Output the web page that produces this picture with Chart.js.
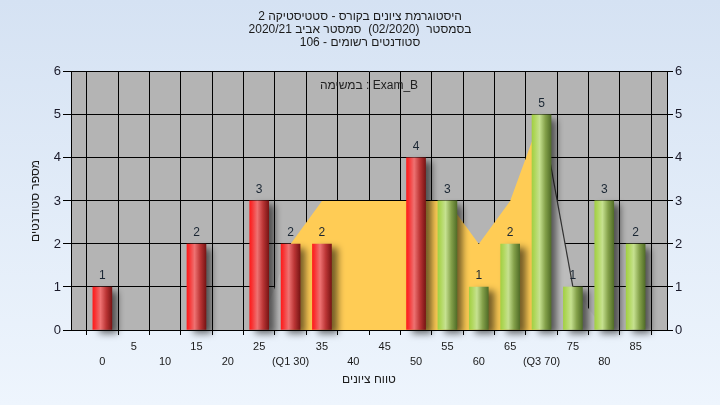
<!DOCTYPE html>
<html>
<head>
<meta charset="utf-8">
<script src="https://cdn.jsdelivr.net/npm/chart.js@4"></script>
<style>
  html, body { margin: 0; padding: 0; }
  body { width: 720px; height: 405px; background: linear-gradient(#d5e2f3, #eef5fd); }
  #wrap { position: relative; width: 720px; height: 405px; }
</style>
</head>
<body>
<div id="wrap"><canvas id="chart"></canvas></div>
<script>
// grade histogram - Exam_B

const titleLines = [
  'היסטוגרמת ציונים בקורס - סטטיסטיקה 2',
  'בסמסטר  (02/2020)  סמסטר אביב 2020/21',
  'סטודנטים רשומים - 106'
];
const taskLabel = 'במשימה : Exam_B';
const xTitle = 'טווח ציונים';
const yTitle = 'מספר סטודנטים';

const categories = [0, 5, 10, 15, 20, 25, 30, 35, 40, 45, 50, 55, 60, 65, 70, 75, 80, 85];
const counts     = [1, 0, 0, 2, 0, 3, 2, 2, 0, 0, 4, 3, 1, 2, 5, 1, 3, 2];
const tickLabels = ['0', '5', '10', '15', '20', '25', '(Q1 30)', '35', '40', '45', '50', '55', '60', '65', '(Q3 70)', '75', '80', '85'];
const passFrom = 55;

// shaded band behind the bars
const areaX = [25, 30, 35, 40, 45, 50, 55, 60, 65, 70, 75, 80];
const areaY = [0, 2, 3, 3, 3, 3, 3, 2, 3, 5, 1, 0];
const q1 = 30, q3 = 70;

const FONT = "'Liberation Sans', Arial, 'DejaVu Sans', sans-serif";
const BAR_W = 19;

function barFill(c) {
  const chart = c.chart;
  if (!chart.chartArea || !c.raw) return '#e33';
  const x = chart.scales.x.getPixelForValue(c.raw.x);
  const g = chart.ctx.createLinearGradient(x - BAR_W / 2, 0, x + BAR_W / 2, 0);
  if (c.raw.x < passFrom) {
    g.addColorStop(0, '#ff1c1c');
    g.addColorStop(0.12, '#f83232');
    g.addColorStop(0.4, '#ee7272');
    g.addColorStop(0.7, '#bb3535');
    g.addColorStop(1, '#7a1515');
  } else {
    g.addColorStop(0, '#a2d044');
    g.addColorStop(0.15, '#b0d75c');
    g.addColorStop(0.4, '#c6e190');
    g.addColorStop(0.7, '#84a14a');
    g.addColorStop(1, '#526e28');
  }
  return g;
}

const plotBg = {
  id: 'plotBg',
  beforeDraw(chart) {
    const { ctx, chartArea: a } = chart;
    ctx.save();
    ctx.fillStyle = '#b4b4b4';
    ctx.fillRect(a.left, a.top, a.right - a.left, a.bottom - a.top);
    ctx.restore();
  }
};

const barShadow = {
  id: 'barShadow',
  beforeDatasetDraw(chart, args) {
    if (args.meta.type !== 'bar') return;
    const ctx = chart.ctx;
    ctx.save();
    ctx.shadowColor = 'rgba(0,0,0,0.55)';
    ctx.shadowBlur = 7;
    ctx.shadowOffsetX = 6;
    ctx.shadowOffsetY = 4;
  },
  afterDatasetDraw(chart, args) {
    if (args.meta.type !== 'bar') return;
    chart.ctx.restore();
  }
};

const labels = {
  id: 'labels',
  afterDatasetsDraw(chart) {
    const ctx = chart.ctx;
    const a = chart.chartArea;
    ctx.save();
    ctx.font = '12px ' + FONT;
    ctx.textAlign = 'center';
    ctx.textBaseline = 'bottom';
    ctx.fillStyle = '#1a2633';
    const meta = chart.getDatasetMeta(1);
    meta.data.forEach((bar, i) => {
      if (!counts[i]) return;
      ctx.fillText(String(counts[i]), bar.x, bar.y - 5);
    });
    ctx.fillStyle = '#222';
    ctx.textBaseline = 'middle';
    ctx.fillText(taskLabel, (a.left + a.right) / 2, a.top + 14);
    ctx.restore();
  }
};

new Chart(document.getElementById('chart'), {
  data: {
    datasets: [
      {
        type: 'line',
        order: 2,
        data: areaX.map((x, i) => ({ x, y: areaY[i] })),
        fill: 'origin',
        pointRadius: 0,
        borderWidth: 1.2,
        borderColor: 'transparent',
        backgroundColor: '#bcbcbc',
        segment: {
          borderColor: s => s.p0.parsed.x === q3 ? '#333333' : 'transparent',
          backgroundColor: s => (s.p0.parsed.x >= q1 && s.p1.parsed.x <= q3) ? '#ffcc55' : '#bcbcbc'
        }
      },
      {
        type: 'bar',
        order: 1,
        // empty classes get no bar at all
        data: categories.map((x, i) => ({ x, y: counts[i] || null })),
        backgroundColor: barFill,
        borderWidth: 0,
        barThickness: BAR_W,
        clip: false
      }
    ]
  },
  plugins: [plotBg, barShadow, labels],
  options: {
    responsive: true,
    maintainAspectRatio: false,
    animation: false,
    layout: { padding: 0 },
    plugins: {
      legend: { display: false },
      tooltip: { enabled: false },
      title: {
        display: true,
        text: titleLines,
        color: '#1a1a1a',
        font: { family: FONT, size: 12, weight: 'normal', lineHeight: 1.08 },
        padding: { top: 10, bottom: 23 }
      }
    },
    scales: {
      x: {
        type: 'linear',
        min: -5,
        max: 90,
        offset: false,
        afterFit: s => { s.height = 75; },
        grid: { color: '#000', tickLength: 5, tickColor: '#000' },
        border: { color: '#000' },
        ticks: {
          stepSize: 5,
          autoSkip: false,
          maxRotation: 0,
          padding: 4,
          color: '#1a1a1a',
          font: { family: FONT, size: 11, lineHeight: '15px' },
          callback: v => {
            const i = categories.indexOf(v);
            if (i < 0) return '';
            return i % 2 ? [tickLabels[i], ''] : ['', tickLabels[i]];
          }
        },
        title: {
          display: true,
          text: xTitle,
          color: '#1a1a1a',
          font: { family: FONT, size: 12 },
          padding: { top: 0, bottom: 18 }
        }
      },
      y: {
        position: 'left',
        min: 0,
        max: 6,
        afterFit: s => { s.width = 71; },
        grid: { color: '#000', tickLength: 8, tickColor: '#000' },
        border: { color: '#000' },
        ticks: { stepSize: 1, padding: 2, color: '#1a1a2a', font: { family: FONT, size: 13 } },
        title: {
          display: true,
          text: yTitle,
          color: '#1a1a1a',
          font: { family: FONT, size: 12 },
          padding: { top: 28, bottom: 0 }
        }
      },
      y1: {
        position: 'right',
        min: 0,
        max: 6,
        afterFit: s => { s.width = 53; },
        grid: { drawOnChartArea: false, tickLength: 6, tickColor: '#000' },
        border: { color: '#000' },
        ticks: { stepSize: 1, padding: 2, color: '#1a1a2a', font: { family: FONT, size: 13 } }
      }
    }
  }
});
</script>
</body>
</html>
